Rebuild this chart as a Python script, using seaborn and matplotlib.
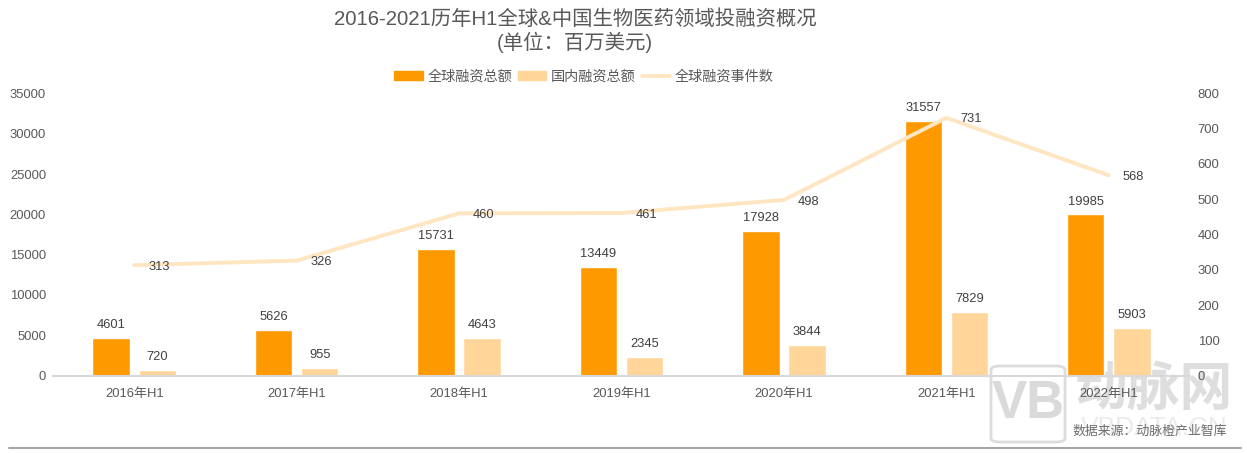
import numpy as np
import pandas as pd
import seaborn as sns
import matplotlib
matplotlib.use("Agg")
import matplotlib.pyplot as plt
from matplotlib.lines import Line2D
from matplotlib.patches import Patch, FancyBboxPatch

categories = ["2016年H1", "2017年H1", "2018年H1", "2019年H1", "2020年H1", "2021年H1", "2022年H1"]
global_total = [4601, 5626, 15731, 13449, 17928, 31557, 19985]
china_total = [720, 955, 4643, 2345, 3844, 7829, 5903]
event_count = [313, 326, 460, 461, 498, 731, 568]
bar_names = ["全球融资总额", "国内融资总额"]
line_name = "全球融资事件数"
title = "2016-2021历年H1全球&中国生物医药领域投融资概况\n(单位：百万美元)"
source = "数据来源：动脉橙产业智库"

sns.set_theme(style="white")
plt.rcParams['font.family'] = ['Liberation Sans', 'Noto Sans CJK SC']

W, H = 1247, 453
TXT = "#595959"
ORANGE, LIGHT, LINE = "#FF9900", "#FFD599", "#FFE6C2"

fig = plt.figure(figsize=(W / 100, H / 100), dpi=100)
ax = fig.add_axes([53 / W, 1 - 375.5 / H, (1190 - 53) / W, (375.5 - 93.5) / H])
ax.set_zorder(9)
ax.patch.set_visible(False)

df = pd.DataFrame({
    "cat": categories * 2,
    "value": global_total + china_total,
    "series": [bar_names[0]] * 7 + [bar_names[1]] * 7,
})
sns.barplot(data=df, x="cat", y="value", hue="series", ax=ax, width=0.568, gap=0.19,
            palette=[ORANGE, LIGHT], saturation=1, legend=False, zorder=2)
ax.set_xlim(-0.5, 6.5)
ax.set_ylim(0, 35000)
ax.set_yticks(range(0, 35001, 5000))
ax.set_xlabel("")
ax.set_ylabel("")
for s in ["top", "left", "right"]:
    ax.spines[s].set_visible(False)
ax.spines["bottom"].set_color("#D9D9D9")
ax.spines["bottom"].set_linewidth(1.5)
ax.tick_params(axis="x", length=0, pad=9, labelsize=9.4, colors=TXT)
ax.tick_params(axis="y", length=0, pad=5, labelsize=9.4, colors=TXT)
for c in ax.containers:
    ax.bar_label(c, fmt="%d", padding=5, fontsize=9.3, color="#404040", zorder=6)

ax2 = ax.twinx()
ax2.set_zorder(10)
ax2.patch.set_visible(False)
sns.lineplot(x=np.arange(len(event_count)), y=event_count, ax=ax2, color=LINE, linewidth=2.8, zorder=3)
ax2.set_ylim(0, 800)
ax2.set_yticks(range(0, 801, 100))
ax2.set_ylabel("")
for s in ["top", "left", "right", "bottom"]:
    ax2.spines[s].set_visible(False)
ax2.tick_params(axis="y", length=0, pad=5.5, labelsize=9.4, colors=TXT)
for i, v in enumerate(event_count):
    ax2.annotate(str(v), (i, v), xytext=(10, -1.2), textcoords="offset points", ha="left", va="center",
                 fontsize=9.3, color="#404040", zorder=6)

fig.text(575 / W, 1 - 31 / H, title, ha="center", va="center", fontsize=14.7, color=TXT, linespacing=1.2)

handles = [Patch(color=ORANGE), Patch(color=LIGHT), Line2D([0], [0], color=LINE, lw=2.8)]
fig.legend(handles, bar_names + [line_name], loc="center", bbox_to_anchor=(584 / W, 1 - 76.5 / H), ncol=3,
           frameon=False, fontsize=10.2, labelcolor=TXT, handlelength=2.0, handleheight=0.5,
           handletextpad=0.35, columnspacing=0.4)

# watermark, behind the chart's marks
wm = "#D4D4D4"
fig.add_artist(FancyBboxPatch((991 / W, 1 - 442 / H), 74 / W, 76 / H, boxstyle="round,pad=0,rounding_size=0.008",
                              transform=fig.transFigure, fill=False, ec=wm, lw=2, alpha=0.8, zorder=1))
fig.text(1028 / W, 1 - 404 / H, "VB", ha="center", va="center", fontsize=38, fontweight="bold", color=wm, alpha=0.85, zorder=1)
fig.text(1154 / W, 1 - 391 / H, "动脉网", ha="center", va="center", fontsize=38, fontweight="bold", color=wm, alpha=0.75, zorder=1)
fig.text(1154 / W, 1 - 428 / H, "VBDATA.CN", ha="center", va="center", fontsize=19, color=wm, alpha=0.45, zorder=1)

fig.text(1227 / W, 1 - 431 / H, source, ha="right", va="center", fontsize=9.3, color="#6E6E6E", zorder=11)
fig.add_artist(Line2D([9 / W, 1241 / W], [1 - 448 / H] * 2, transform=fig.transFigure, color="#A6A6A6", lw=1.5))

fig.savefig("out.png", dpi=100)
